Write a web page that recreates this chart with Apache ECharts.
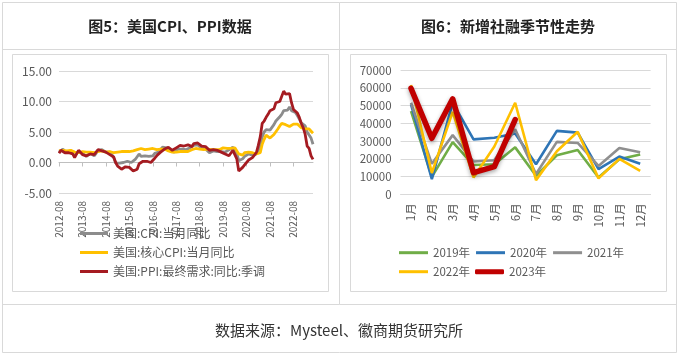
<!DOCTYPE html>
<html><head><meta charset="utf-8">
<script src="https://cdn.jsdelivr.net/npm/echarts@6/dist/echarts.min.js"></script>
<style>html,body{margin:0;padding:0;background:#fff}#c{width:679px;height:355px}</style>
</head><body><div id="c"></div>
<script>
// ---------- text ----------
const leftTitle = '图5：美国CPI、PPI数据';
const rightTitle = '图6：新增社融季节性走势';
const footerText = '数据来源：Mysteel、徽商期货研究所';

// ---------- left chart: US CPI / PPI (monthly, 2012-08 .. 2023-06) ----------
const monthStart = { year: 2012, month: 8 };
const monthCount = 131;
const months = [];
for (let i = 0; i < monthCount; i++) {
  const m = monthStart.month - 1 + i;
  const y = monthStart.year + Math.floor(m / 12);
  const mm = (m % 12) + 1;
  months.push(y + '-' + (mm < 10 ? '0' + mm : mm));
}
const leftNames = ['美国:CPI:当月同比', '美国:核心CPI:当月同比', '美国:PPI:最终需求:同比:季调'];
const cpi = [
  1.7, 2.0, 2.2, 1.8, 1.7,
  1.6, 2.0, 1.5, 1.1, 1.4, 1.8, 2.0, 1.5, 1.2, 1.0, 1.2, 1.5,
  1.6, 1.1, 1.5, 2.0, 2.1, 2.1, 2.0, 1.7, 1.7, 1.7, 1.3, 0.8,
  -0.1, 0.0, -0.1, -0.2, 0.0, 0.1, 0.2, 0.2, 0.0, 0.2, 0.5, 0.7,
  1.4, 1.0, 0.9, 1.1, 1.0, 1.0, 0.8, 1.1, 1.5, 1.6, 1.7, 2.1,
  2.5, 2.7, 2.4, 2.2, 1.9, 1.6, 1.7, 1.9, 2.2, 2.0, 2.2, 2.1,
  2.1, 2.2, 2.4, 2.5, 2.8, 2.9, 2.9, 2.7, 2.3, 2.5, 2.2, 1.9,
  1.6, 1.5, 1.9, 2.0, 1.8, 1.6, 1.8, 1.7, 1.7, 1.8, 2.1, 2.3,
  2.5, 2.3, 1.5, 0.3, 0.1, 0.6, 1.0, 1.3, 1.4, 1.2, 1.2, 1.4,
  1.4, 1.7, 2.6, 4.2, 5.0, 5.4, 5.4, 5.3, 5.4, 6.2, 6.8, 7.0,
  7.5, 7.9, 8.5, 8.3, 8.6, 9.1, 8.5, 8.3, 8.2, 7.7, 7.1, 6.5,
  6.4, 6.0, 5.0, 4.9, 4.0, 3.0
];
const coreCpi = [
  1.9, 2.0, 2.0, 1.9, 1.9,
  1.9, 2.0, 1.9, 1.7, 1.7, 1.6, 1.7, 1.8, 1.7, 1.7, 1.7, 1.7,
  1.6, 1.6, 1.7, 1.8, 2.0, 1.9, 1.9, 1.7, 1.7, 1.8, 1.7, 1.6,
  1.6, 1.7, 1.8, 1.8, 1.7, 1.8, 1.8, 1.8, 1.9, 1.9, 2.0, 2.1,
  2.2, 2.3, 2.2, 2.1, 2.2, 2.2, 2.2, 2.3, 2.2, 2.1, 2.1, 2.2,
  2.3, 2.2, 2.0, 1.9, 1.7, 1.7, 1.7, 1.7, 1.7, 1.8, 1.7, 1.8,
  1.8, 1.8, 2.1, 2.1, 2.2, 2.3, 2.4, 2.2, 2.2, 2.1, 2.2, 2.2,
  2.2, 2.1, 2.0, 2.1, 2.0, 2.1, 2.2, 2.4, 2.4, 2.3, 2.3, 2.3,
  2.3, 2.4, 2.1, 1.4, 1.2, 1.2, 1.6, 1.7, 1.7, 1.6, 1.6, 1.6,
  1.4, 1.3, 1.6, 3.0, 3.8, 4.5, 4.3, 4.0, 4.0, 4.6, 4.9, 5.5,
  6.0, 6.4, 6.5, 6.2, 6.0, 5.9, 5.9, 6.3, 6.6, 6.3, 6.0, 5.7,
  5.6, 5.5, 5.6, 5.5, 5.3, 4.8
];
const ppi = [
  1.5, 2.0, 2.0, 1.6, 1.5,
  1.6, 1.7, 1.4, 0.8, 1.4, 2.0, 1.9, 1.3, 1.0, 1.1, 1.0, 1.4,
  1.3, 1.3, 1.5, 2.1, 2.0, 1.9, 1.8, 1.7, 1.5, 1.3, 1.3, 0.9,
  0.0, -0.6, -0.7, -1.1, -1.1, -0.7, -0.8, -0.8, -1.0, -1.4, -1.2, -1.1,
  -0.2, 0.0, 0.2, 0.0, 0.2, 0.3, 0.0, 0.0, 0.7, 1.1, 1.3, 1.7,
  1.7, 2.2, 2.3, 2.5, 2.3, 2.0, 1.9, 2.4, 2.6, 2.8, 3.1, 2.7,
  2.7, 2.9, 2.9, 2.6, 3.1, 3.3, 3.2, 2.9, 2.7, 2.9, 2.6, 2.6,
  2.0, 1.9, 2.1, 2.4, 2.0, 1.7, 1.7, 1.7, 1.4, 1.1, 1.1, 1.3,
  2.0, 1.3, 0.6, -1.4, -1.1, -0.8, -0.4, -0.2, 0.4, 0.5, 0.8, 0.8,
  1.6, 2.8, 4.2, 6.4, 6.8, 7.4, 7.9, 8.5, 8.7, 8.8, 9.8, 10.0,
  10.0, 10.3, 11.7, 11.2, 10.9, 11.3, 9.8, 8.7, 8.5, 8.1, 7.4, 6.4,
  5.7, 4.6, 2.7, 2.3, 1.1, 0.5
];
const leftAxis = { min: -5, max: 15, interval: 5 };

// ---------- right chart: 新增社融 seasonal ----------
const socialMonths = ['1月','2月','3月','4月','5月','6月','7月','8月','9月','10月','11月','12月'];
const yearNames = ['2019年', '2020年', '2021年', '2022年', '2023年'];
const sf2019 = [46900, 9800, 29500, 16500, 17000, 26500, 10500, 22000, 25000, 9500, 19800, 22500];
const sf2020 = [50800, 8600, 51800, 31000, 31900, 34300, 17000, 35800, 34800, 14200, 21300, 17200];
const sf2021 = [51700, 17200, 33400, 18500, 19200, 36700, 11500, 29600, 29000, 16000, 26100, 23700];
const sf2022 = [61700, 12000, 46500, 9500, 27000, 51700, 8000, 24300, 35300, 9000, 20000, 13200];
const sf2023 = [59800, 31600, 53900, 12200, 15600, 42200];
const rightAxis = { min: 0, max: 70000, interval: 10000 };

// ---------- styling ----------
const FONT = '"Noto Sans CJK SC", "Noto Sans", sans-serif';
const LABEL = '#595959';
const GRID = '#d9d9d9';
const BORDER = '#d9d9d9';

const chart = echarts.init(document.getElementById('c'), null, { renderer: 'canvas' });

function hline(x1, x2, y) {
  return { type: 'line', silent: true, shape: { x1: x1, y1: y, x2: x2, y2: y }, style: { stroke: BORDER, lineWidth: 1 } };
}
function vline(x, y1, y2) {
  return { type: 'line', silent: true, shape: { x1: x, y1: y1, x2: x, y2: y2 }, style: { stroke: BORDER, lineWidth: 1 } };
}
function box(x, y, w, h) {
  return { type: 'rect', silent: true, shape: { x: x, y: y, width: w, height: h }, style: { fill: null, stroke: BORDER, lineWidth: 1 } };
}

const option = {
  animation: false,
  backgroundColor: '#fff',
  textStyle: { fontFamily: FONT },
  graphic: [
    box(2.5, 2.5, 674, 350),
    hline(2.5, 676.5, 49.5),
    hline(2.5, 676.5, 304.5),
    vline(339.5, 2.5, 304.5),
    box(12.5, 54.5, 316, 237),
    box(350.5, 54.5, 316, 237),
    { type: 'text', silent: true, style: { text: leftTitle, x: 170, y: 26, align: 'center', verticalAlign: 'middle', font: 'bold 15px ' + FONT, fill: '#222' } },
    { type: 'text', silent: true, style: { text: rightTitle, x: 508, y: 26, align: 'center', verticalAlign: 'middle', font: 'bold 15px ' + FONT, fill: '#222' } },
    { type: 'text', silent: true, style: { text: footerText, x: 339, y: 330, align: 'center', verticalAlign: 'middle', font: '15px ' + FONT, fill: '#333' } }
  ],
  legend: [
    {
      orient: 'vertical', left: 80, top: 226.5, padding: 0, itemGap: 5,
      itemWidth: 28, itemHeight: 3, icon: 'rect', selectedMode: false,
      textStyle: { fontSize: 12, color: LABEL, lineHeight: 14, fontFamily: FONT },
      data: leftNames
    },
    {
      orient: 'horizontal', left: 399, top: 245.7, padding: 0, itemGap: 6,
      itemWidth: 29, itemHeight: 3, icon: 'rect', selectedMode: false,
      textStyle: { fontSize: 11.5, color: LABEL, lineHeight: 14, fontFamily: FONT },
      data: yearNames.slice(0, 3)
    },
    {
      orient: 'horizontal', left: 399, top: 264.7, padding: 0, itemGap: 6,
      itemWidth: 29, itemHeight: 3, icon: 'rect', selectedMode: false,
      textStyle: { fontSize: 11.5, color: LABEL, lineHeight: 14, fontFamily: FONT },
      data: [yearNames[3]]
    },
    {
      orient: 'horizontal', left: 475, top: 264.7, padding: 0, itemGap: 6,
      itemWidth: 29, itemHeight: 5, icon: 'roundRect', selectedMode: false,
      textStyle: { fontSize: 11.5, color: LABEL, lineHeight: 14, fontFamily: FONT },
      data: [yearNames[4]]
    }
  ],
  grid: [
    { left: 59, right: 679 - 313, top: 71, bottom: 355 - 193, containLabel: false, outerBoundsMode: 'none' },
    { left: 400.6, right: 679 - 650.6, top: 70.3, bottom: 355 - 194.3, containLabel: false, outerBoundsMode: 'none' }
  ],
  xAxis: [
    {
      type: 'category', gridIndex: 0, data: months, boundaryGap: false,
      axisLine: { show: true, onZero: true, lineStyle: { color: '#bfbfbf', width: 1 } },
      axisTick: { show: true, interval: 11, length: 4, lineStyle: { color: '#bfbfbf' } },
      axisLabel: { interval: 11, rotate: 90, margin: 8, fontSize: 10, color: LABEL, fontFamily: FONT },
      splitLine: { show: false }
    },
    {
      type: 'category', gridIndex: 1, data: socialMonths, boundaryGap: true,
      axisLine: { show: true, lineStyle: { color: GRID, width: 1 } },
      axisTick: { show: false },
      axisLabel: { interval: 0, rotate: 90, margin: 9, fontSize: 11.5, color: LABEL, fontFamily: FONT },
      splitLine: { show: false }
    }
  ],
  yAxis: [
    {
      type: 'value', gridIndex: 0, min: leftAxis.min, max: leftAxis.max, interval: leftAxis.interval,
      axisLine: { show: false }, axisTick: { show: false },
      axisLabel: { margin: 7, fontSize: 12, color: LABEL, fontFamily: FONT, formatter: v => v.toFixed(2) },
      splitLine: { show: true, lineStyle: { color: GRID, width: 1 } }
    },
    {
      type: 'value', gridIndex: 1, min: rightAxis.min, max: rightAxis.max, interval: rightAxis.interval,
      axisLine: { show: false }, axisTick: { show: false },
      axisLabel: { margin: 9, fontSize: 11.5, color: LABEL, fontFamily: FONT, formatter: v => String(v) },
      splitLine: { show: true, lineStyle: { color: GRID, width: 1 } }
    }
  ],
  series: [
    { name: leftNames[0], type: 'line', xAxisIndex: 0, yAxisIndex: 0, data: cpi, symbol: 'none', color: '#8c8c8c', lineStyle: { width: 2.8, color: '#8c8c8c' } },
    { name: leftNames[1], type: 'line', xAxisIndex: 0, yAxisIndex: 0, data: coreCpi, symbol: 'none', color: '#ffc000', lineStyle: { width: 2.8, color: '#ffc000' } },
    { name: leftNames[2], type: 'line', xAxisIndex: 0, yAxisIndex: 0, data: ppi, symbol: 'none', color: '#a51b21', lineStyle: { width: 2.8, color: '#a51b21' } },

    { name: yearNames[0], type: 'line', xAxisIndex: 1, yAxisIndex: 1, data: sf2019, symbol: 'none', color: '#70ad47', lineStyle: { width: 2.6, color: '#70ad47' } },
    { name: yearNames[1], type: 'line', xAxisIndex: 1, yAxisIndex: 1, data: sf2020, symbol: 'none', color: '#2e75b6', lineStyle: { width: 2.6, color: '#2e75b6' } },
    { name: yearNames[2], type: 'line', xAxisIndex: 1, yAxisIndex: 1, data: sf2021, symbol: 'none', color: '#8f8f8f', lineStyle: { width: 2.6, color: '#8f8f8f' } },
    { name: yearNames[3], type: 'line', xAxisIndex: 1, yAxisIndex: 1, data: sf2022, symbol: 'none', color: '#ffc000', lineStyle: { width: 2.6, color: '#ffc000' } },
    { name: yearNames[4], type: 'line', xAxisIndex: 1, yAxisIndex: 1, data: sf2023, symbol: 'none', color: '#c00000',
      lineStyle: { width: 5.5, color: '#c00000', shadowColor: 'rgba(0,0,0,0.35)', shadowBlur: 4, shadowOffsetY: 2, cap: 'round', join: 'round' } }
  ]
};
chart.setOption(option);
</script>
</body></html>
